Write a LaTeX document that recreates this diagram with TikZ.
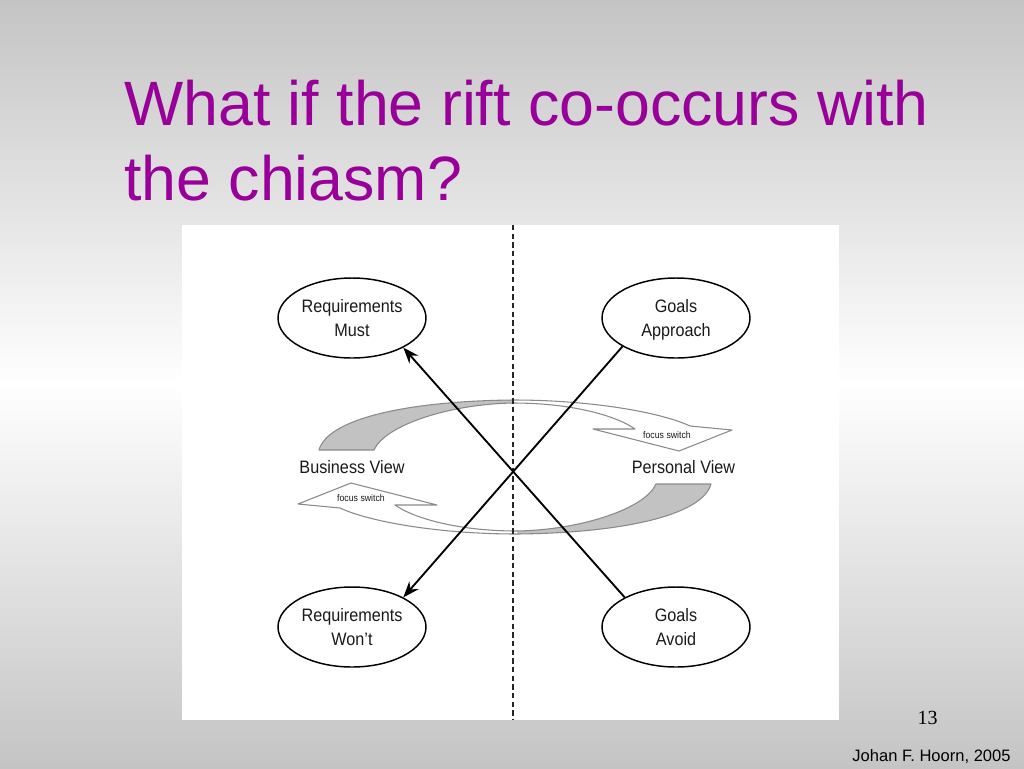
\documentclass[tikz,border=0pt]{standalone}
\usepackage{fontspec}
\setmainfont{Liberation Sans}
\newfontfamily\serifnum{Liberation Serif}
\usetikzlibrary{shapes.geometric,arrows.meta}
\definecolor{titlepurple}{HTML}{990099}
\definecolor{bggray}{HTML}{C4C4C4}
\definecolor{ribbonfill}{HTML}{C2C2C2}
\definecolor{ribbonline}{HTML}{8A8A8A}
\definecolor{diagtext}{HTML}{1A1A1A}
\newcommand{\nx}[1]{\scalebox{0.9}[1]{#1}}
\newcommand{\nodepth}[1]{\raisebox{0pt}[\height][0pt]{#1}}
\tikzset{
  oval/.style={ellipse, draw=black, line width=1.1pt, fill=white,
    minimum width=111pt, minimum height=60pt, inner sep=0pt,
    align=center, text=diagtext,
    font=\fontsize{13.5}{18}\selectfont},
  viewlbl/.style={anchor=base, inner sep=0pt, text=diagtext,
    font=\fontsize{13.5}{16}\selectfont},
  smalllbl/.style={inner sep=0pt, text=diagtext,
    font=\fontsize{7.3}{8}\selectfont},
  conn/.style={line width=1.4pt, draw=black, -{Stealth[length=12pt,width=9pt]}},
  divider/.style={line width=1.1pt, draw=black!85, dash pattern=on 4pt off 2.5pt},
  ribbon/.style={draw=ribbonline, line width=0.8pt, line join=round},
  titletext/.style={anchor=base west, inner sep=0pt, text=titlepurple,
    font=\fontsize{47}{56}\selectfont}
}
\begin{document}
\begin{tikzpicture}[x=0.75pt,y=-0.75pt]
\useasboundingbox (0,0) rectangle (1024,768);
% background gradient
\shade[top color=bggray,bottom color=white] (0,0) rectangle (1024,384);
\shade[top color=white,bottom color=bggray] (0,383) rectangle (1024,768);

% title
\node[titletext] (t1) at (124,125) {What if the rift co-occurs with};
\node[titletext] (t2) at (124,200) {the chiasm?};

% diagram panel
\fill[white] (182,225) rectangle (839,720);

% ribbons (top one, then its point reflection)
\foreach \r in {0,180}{
\begin{scope}[rotate around={\r:(515,467)}]
  \fill[ribbonfill] (319,450) .. controls (328,418) and (410,401) .. (513,400)
     -- (513,403) .. controls (450,404) and (385,425) .. (374,450) -- cycle;
  \draw[ribbon] (513,400) .. controls (410,401) and (328,418) .. (319,450)
     -- (374,450) .. controls (385,425) and (450,404) .. (513,403);
  \filldraw[ribbon, fill=white] (513,400) .. controls (590,400) and (660,412) .. (690,426)
     -- (732,430) -- (679,451) -- (593,429) -- (635,429)
     .. controls (615,415) and (570,403) .. (513,403);
\end{scope}
}
\node[smalllbl] (fs1) at (667,435) {\nx{focus switch}};
\node[smalllbl] (fs2) at (361,498) {\nx{focus switch}};

% dashed divider
\coordinate (dtop) at (513,225);
\coordinate (dbot) at (513,720);
\draw[divider] (dtop) -- (dbot);

% ellipses
\node[oval] (rm) at (352,318) {\nx{Requirements}\\\nx{Must}};
\node[oval] (gp) at (676,318) {\nx{Goals}\\\nodepth{\nx{Approach}}};
\node[oval] (rw) at (352,627) {\nx{Requirements}\\\nx{Won't}};
\node[oval] (ga) at (676,627) {\nx{Goals}\\\nx{Avoid}};

% view labels
\node[viewlbl] (bv) at (352,473.5) {\nx{Business View}};
\node[viewlbl] (pv) at (683.5,473) {\nx{Personal View}};

% crossing connectors
\draw[conn] (ga.150) -- (rm.-30);
\draw[conn] (gp.208) -- (rw.30);

% footer
\node[anchor=base, inner sep=0pt, font=\serifnum\fontsize{15}{18}\selectfont] (pg) at (927.5,724) {13};
\node[anchor=base, inner sep=0pt, text=black, font=\fontsize{12.4}{15}\selectfont] (auth) at (931.5,761) {Johan F. Hoorn, 2005};
\end{tikzpicture}
\end{document}
